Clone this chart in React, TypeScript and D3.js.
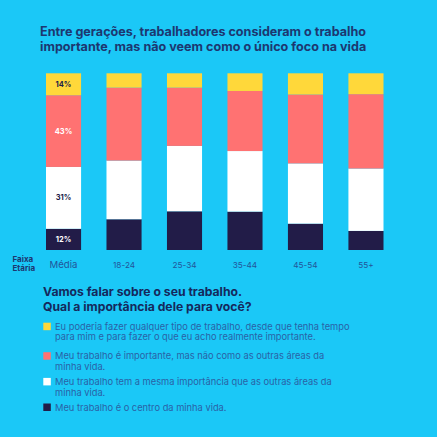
import React from "react";
import * as d3 from "d3";

const categories = ["Média", "18-24", "25-34", "35-44", "45-54", "55+"];
// stacked bottom -> top
const centro = [12, 17.4, 21.9, 21.7, 14.9, 10.8];
const mesma = [35, 33.2, 37, 34.3, 34.1, 35.3];
const naoComo = [40.6, 41.3, 33, 34, 39, 42.1];
const qualquer = [12.4, 8.1, 8.1, 10, 12, 11.8];
const mediaLabels = ["12%", "31%", "43%", "14%"];

const seriesKeys = ["centro", "mesma", "naoComo", "qualquer"];
const seriesColors = ["#221c48", "#ffffff", "#ff7272", "#ffd83a"];
const labelColors = ["#ffffff", "#221c48", "#ffffff", "#221c48"];

const titleLines = [
  "Entre gerações, trabalhadores consideram o trabalho",
  "importante, mas não veem como o único foco na vida",
];
const subtitleLines = ["Vamos falar sobre o seu trabalho.", "Qual a importância dele para você?"];
const legendItems = [
  { color: "#ffd83a", lines: ["Eu poderia fazer qualquer tipo de trabalho, desde que tenha tempo", "para mim e para fazer o que eu acho realmente importante."] },
  { color: "#ff7272", lines: ["Meu trabalho é importante, mas não como as outras áreas da", "minha vida."] },
  { color: "#ffffff", lines: ["Meu trabalho tem a mesma importância que as outras áreas da", "minha vida."] },
  { color: "#221c48", lines: ["Meu trabalho é o centro da minha vida."] },
];

export default function App() {
  const W = 437, H = 437;
  const rows = categories.map((c, i) => ({
    cat: c,
    centro: centro[i],
    mesma: mesma[i],
    naoComo: naoComo[i],
    qualquer: qualquer[i],
  }));
  const stack = d3.stack<any>().keys(seriesKeys);
  const layers = stack(rows);
  const x = d3.scaleBand().domain(categories).range([46, 383.5]).paddingInner(0.42).paddingOuter(0);
  const y = d3.scaleLinear().domain([0, 100]).range([250, 73.3]);
  const font = "Inter, 'Open Sans', sans-serif";
  const legendY = [326.5, 356, 381.7, 407.3];
  return (
    <svg width={W} height={H} style={{ position: "absolute", left: 0, top: 0 }} fontFamily={font}>
      <rect width={W} height={H} fill="#1bc8f7" />
      {titleLines.map((t, i) => (
        <text key={i} x={40} y={36 + i * 15} fontSize={12.6} fontWeight={700} fill="#1d3770">{t}</text>
      ))}
      {layers.map((layer, li) => (
        <g key={li} fill={seriesColors[li]}>
          {layer.map((d, i) => (
            <rect key={i} x={x(categories[i])} width={x.bandwidth()} y={y(d[1])} height={y(d[0]) - y(d[1])} />
          ))}
        </g>
      ))}
      {layers.map((layer, li) => {
        const d = layer[0];
        return (
          <text key={li} x={(x(categories[0]) as number) + x.bandwidth() / 2} y={(y(d[0]) + y(d[1])) / 2 + 2.6}
            textAnchor="middle" fontSize={7.5} fontWeight={700} fill={labelColors[li]}>{mediaLabels[li]}</text>
        );
      })}
      {categories.map((c) => (
        <text key={c} x={(x(c) as number) + x.bandwidth() / 2} y={268} textAnchor="middle" fontSize={c === "Média" ? 9.6 : 8.2}
          fill="#22559a">{c}</text>
      ))}
      <text x={12.5} y={262} fontSize={8} fontWeight={700} fill="#1d3770">Faixa</text>
      <text x={12.5} y={270.5} fontSize={8} fontWeight={700} fill="#1d3770">Etária</text>
      {subtitleLines.map((t, i) => (
        <text key={i} x={43} y={295.5 + i * 15} fontSize={12.2} fontWeight={700} fill="#15285c">{t}</text>
      ))}
      {legendItems.map((it, i) => (
        <g key={i}>
          <rect x={43.3} y={legendY[i] - 3.8} width={7.5} height={7.5} fill={it.color} />
          {it.lines.map((l, j) => (
            <text key={j} x={55} y={legendY[i] + 3.2 + j * 10.6} fontSize={9.3} fill="#2a62a6">{l}</text>
          ))}
        </g>
      ))}
    </svg>
  );
}
